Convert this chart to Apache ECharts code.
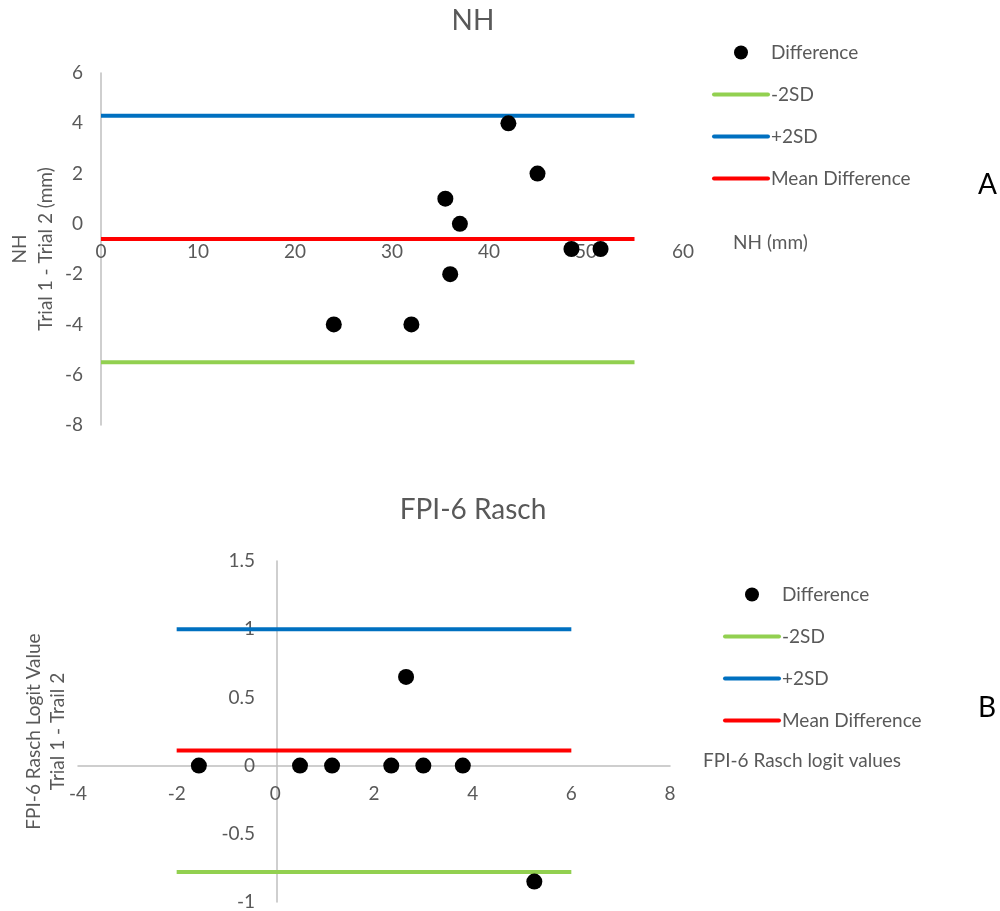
<!DOCTYPE html>
<html>
<head>
<meta charset="utf-8">
<script src="https://cdn.jsdelivr.net/npm/echarts@6/dist/echarts.min.js"></script>
<style>
html,body{margin:0;padding:0;background:#fff;}
#chart{width:1000px;height:911px;}
</style>
</head>
<body>
<div id="chart"></div>
<script>
// ---- Data: Panel A (NH) ----
const nhMean = [24, 32, 35.5, 36, 37, 42, 45, 48.5, 51.5];
const nhDiff = [-4, -4, 1, -2, 0, 4, 2, -1, -1];
const nhLineX = [0, 55];
const nhLower = -5.5;
const nhUpper = 4.3;
const nhMeanDiff = -0.6;
const nhYTicks = [-8, -6, -4, -2, 0, 2, 4, 6];
const nhXTicks = [0, 10, 20, 30, 40, 50, 60];

// ---- Data: Panel B (FPI-6 Rasch) ----
const fpiMean = [-1.55, 0.5, 1.15, 2.35, 3.0, 3.8, 2.65, 5.25];
const fpiDiff = [0, 0, 0, 0, 0, 0, 0.65, -0.85];
const fpiLineX = [-2, 6];
const fpiLower = -0.78;
const fpiUpper = 1.0;
const fpiMeanDiff = 0.11;
const fpiYTicks = [-1, -0.5, 0, 0.5, 1, 1.5];
const fpiXTicks = [-4, -2, 0, 2, 4, 6, 8];

const seriesNames = ['Difference', '-2SD', '+2SD', 'Mean Difference'];
const colors = {dot: '#000000', lower: '#92D050', upper: '#0070C0', mean: '#FF0000'};

const FONT = 'Lato';
const GREY = '#595959';
const AXISLINE = '#BFBFBF';

function hLine(xs, y) { return xs.map(x => [x, y]); }
function pts(xs, ys) { return xs.map((x, i) => [x, ys[i]]); }

function lineSeries(name, data, color, idx) {
  return {
    name: name, type: 'line', xAxisIndex: idx, yAxisIndex: idx,
    data: data, symbol: 'none', silent: true,
    lineStyle: {color: color, width: 4}, itemStyle: {color: color},
    z: 2
  };
}

function legendFor(idx, left, top) {
  const s = idx ? ' ' : '';
  return {
    orient: 'vertical', left: left, top: top, padding: 0,
    itemWidth: 54, itemHeight: 14, itemGap: 23,
    selectedMode: false,
    lineStyle: {width: 4, cap: 'round'},
    textStyle: {fontFamily: FONT, fontSize: 19, color: GREY, padding: [0, 0, 0, -2]},
    data: [
      {name: seriesNames[0] + s, icon: 'circle', itemStyle: {opacity: 1}},
      {name: seriesNames[1] + s, itemStyle: {opacity: 0}},
      {name: seriesNames[2] + s, itemStyle: {opacity: 0}},
      {name: seriesNames[3] + s, itemStyle: {opacity: 0}}
    ]
  };
}

const G0 = {left: 101, top: 73, width: 582, height: 352};
const G1 = {left: 78, top: 561, width: 592, height: 341};

const option = {
  animation: false,
  backgroundColor: '#fff',
  title: [
    {text: 'NH', left: 468, top: 2, textAlign: 'center',
     textStyle: {fontFamily: FONT, fontSize: 28, fontWeight: 'normal', color: GREY}},
    {text: 'FPI-6 Rasch', left: 468, top: 491, textAlign: 'center',
     textStyle: {fontFamily: FONT, fontSize: 28, fontWeight: 'normal', color: GREY}}
  ],
  legend: [legendFor(0, 712, 43), legendFor(1, 723, 585)],
  grid: [
    Object.assign({containLabel: false, outerBoundsMode: 'none'}, G0),
    Object.assign({containLabel: false, outerBoundsMode: 'none'}, G1)
  ],
  xAxis: [
    {gridIndex: 0, type: 'value', min: nhXTicks[0], max: nhXTicks[nhXTicks.length - 1], interval: 10,
     position: 'bottom', offset: -202,
     axisLine: {show: false, onZero: false}, axisTick: {show: false}, splitLine: {show: false},
     axisLabel: {fontFamily: FONT, fontSize: 19, color: GREY, margin: 19}},
    {gridIndex: 1, type: 'value', min: fpiXTicks[0], max: fpiXTicks[fpiXTicks.length - 1], interval: 2,
     position: 'bottom', offset: -136,
     axisLine: {show: true, onZero: false, lineStyle: {color: AXISLINE, width: 1.5}},
     axisTick: {show: false}, splitLine: {show: false},
     axisLabel: {fontFamily: FONT, fontSize: 19, color: GREY, margin: 18}}
  ],
  yAxis: [
    {gridIndex: 0, type: 'value', min: nhYTicks[0], max: nhYTicks[nhYTicks.length - 1], interval: 2,
     position: 'left',
     axisLine: {show: true, onZero: false, lineStyle: {color: AXISLINE, width: 1.5}},
     axisTick: {show: false}, splitLine: {show: false},
     axisLabel: {fontFamily: FONT, fontSize: 19, color: GREY, margin: 18},
     name: 'NH\nTrial 1 - Trial 2 (mm)', nameLocation: 'middle', nameRotate: 90, nameGap: 42,
     nameMoveOverlap: false,
     nameTextStyle: {fontFamily: FONT, fontSize: 19, color: GREY, lineHeight: 26, align: 'center'}},
    {gridIndex: 1, type: 'value', min: fpiYTicks[0], max: fpiYTicks[fpiYTicks.length - 1], interval: 0.5,
     position: 'left', offset: -199,
     axisLine: {show: true, onZero: false, lineStyle: {color: AXISLINE, width: 1.5}},
     axisTick: {show: false}, splitLine: {show: false},
     axisLabel: {fontFamily: FONT, fontSize: 19, color: GREY, margin: 22},
     name: 'FPI-6 Rasch Logit Value\nTrial 1 - Trail 2', nameLocation: 'middle', nameRotate: 90, nameGap: 207,
     nameMoveOverlap: false,
     nameTextStyle: {fontFamily: FONT, fontSize: 19, color: GREY, lineHeight: 24, align: 'center'}}
  ],
  series: [
    lineSeries(seriesNames[1], hLine(nhLineX, nhLower), colors.lower, 0),
    lineSeries(seriesNames[2], hLine(nhLineX, nhUpper), colors.upper, 0),
    lineSeries(seriesNames[3], hLine(nhLineX, nhMeanDiff), colors.mean, 0),
    {name: seriesNames[0], type: 'scatter', xAxisIndex: 0, yAxisIndex: 0,
     data: pts(nhMean, nhDiff), symbol: 'circle', symbolSize: 16,
     itemStyle: {color: colors.dot, opacity: 1}, z: 5},
    lineSeries(seriesNames[1] + ' ', hLine(fpiLineX, fpiLower), colors.lower, 1),
    lineSeries(seriesNames[2] + ' ', hLine(fpiLineX, fpiUpper), colors.upper, 1),
    lineSeries(seriesNames[3] + ' ', hLine(fpiLineX, fpiMeanDiff), colors.mean, 1),
    {name: seriesNames[0] + ' ', type: 'scatter', xAxisIndex: 1, yAxisIndex: 1,
     data: pts(fpiMean, fpiDiff), symbol: 'circle', symbolSize: 16,
     itemStyle: {color: colors.dot, opacity: 1}, z: 5}
  ],
  graphic: [
    {type: 'text', left: 733, top: 233, style: {text: 'NH (mm)', font: '19px ' + FONT, fill: GREY}},
    {type: 'text', left: 703, top: 751, style: {text: 'FPI-6 Rasch logit values', font: '19px ' + FONT, fill: GREY}},
    {type: 'text', left: 978, top: 171, style: {text: 'A', font: '28px ' + FONT, fill: '#000'}},
    {type: 'text', left: 978, top: 694, style: {text: 'B', font: '28px ' + FONT, fill: '#000'}}
  ]
};

const chart = echarts.init(document.getElementById('chart'), null, {renderer: 'canvas'});
chart.setOption(option);
</script>
</body>
</html>
